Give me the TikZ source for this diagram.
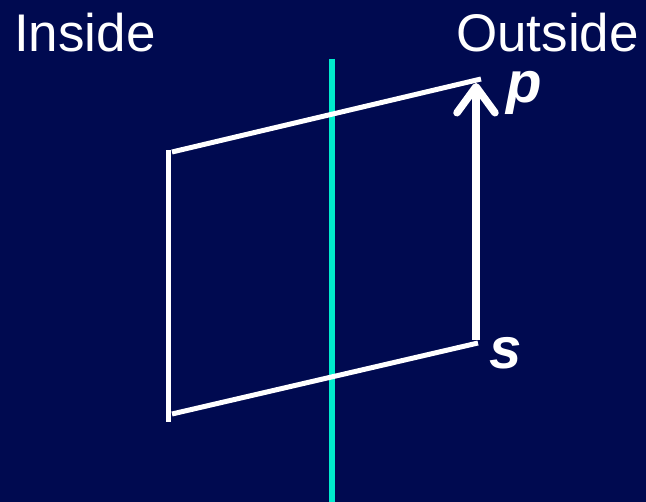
\documentclass[tikz,border=0pt]{standalone}
\usepackage{fontspec}
\setmainfont{Liberation Sans}
\usetikzlibrary{arrows.meta}
\definecolor{navy}{RGB}{0,10,80}
\definecolor{wallcyan}{RGB}{0,235,205}
\tikzset{
  wire/.style={draw=white, line width=5pt},
  label/.style={text=white, inner sep=0pt, font=\fontsize{53}{60}\selectfont},
  var/.style={text=white, inner sep=0pt, text height=0.55em, text depth=0.22em, font=\fontsize{58}{64}\selectfont\bfseries\itshape},
}
\begin{document}
\begin{tikzpicture}[x=1pt, y=-1pt]
  \fill[navy] (0,0) rectangle (646,502);
  \useasboundingbox (0,0) rectangle (646,502);
  % wall
  \coordinate (wtop) at (332,59);
  \coordinate (wbot) at (332,502);
  \draw[wallcyan, line width=6pt] (wtop) -- (wbot);
  % corners
  \coordinate (tl) at (172,152);
  \coordinate (tr) at (481,79);
  \coordinate (bl) at (172,414);
  \coordinate (br) at (478,343);
  \coordinate (lt) at (168.5,150);
  \coordinate (lb) at (168.5,422);
  \coordinate (as) at (476,340);
  \coordinate (ap) at (476,83);
  \draw[wire] (tl) -- (tr);
  \draw[wire] (bl) -- (br);
  \draw[wire, line width=4.5pt] (lt) -- (lb);
  \draw[draw=white, line width=7.5pt, -{Straight Barb[length=26pt, width=38pt, round]}] (as) -- (ap);
  % labels
  \node[label, anchor=base west] (inside) at (14,52) {Inside};
  \node[label, anchor=base west] (outside) at (456,52) {Outside};
  \node[var, anchor=base west] (p) at (506,103) {p};
  \node[var, anchor=base west] (s) at (489,369) {s};
\end{tikzpicture}
\end{document}
